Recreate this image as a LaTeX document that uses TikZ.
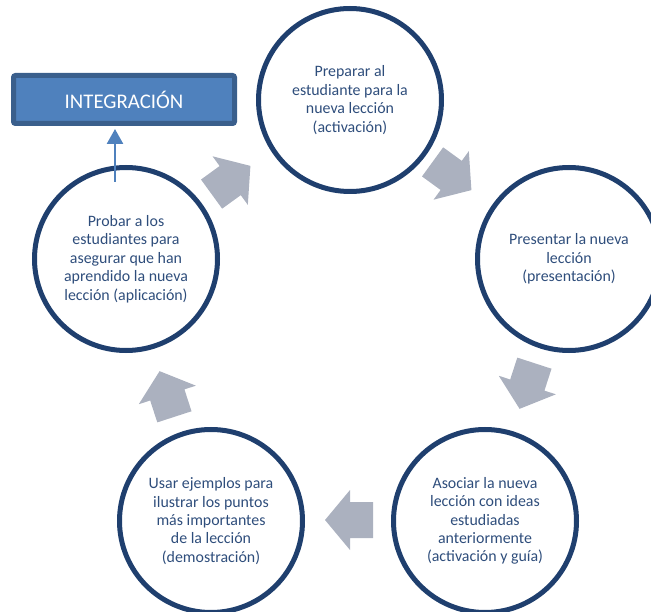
\documentclass[tikz,border=0pt]{standalone}
\usepackage{fontspec}
\setmainfont{Carlito}
\usetikzlibrary{arrows.meta}
\definecolor{ringblue}{HTML}{1F3F6E}
\definecolor{txtblue}{HTML}{2E4D7B}
\definecolor{boxfill}{HTML}{4F81BD}
\definecolor{boxline}{HTML}{3A5F8C}
\definecolor{arrgray}{HTML}{ABB1BF}
\tikzset{
  ring/.style={circle, draw=ringblue, line width=5pt, minimum size=183pt, inner sep=0pt,
    text=txtblue, align=center, font=\fontsize{15.9}{18.4}\selectfont},
  intbox/.style={draw=boxline, fill=boxfill, line width=5pt, rounded corners=2pt,
    minimum width=221pt, minimum height=48pt, inner sep=0pt, text=white,
    font=\fontsize{20.8}{23}\selectfont},
  intarrow/.style={draw=boxfill, line width=2.6pt, -{Triangle[length=15pt,width=16pt]}},
  blockarr/.style={fill=arrgray}
}
\newcommand{\blockarrow}[3]{%
  \fill[blockarr, shift={(#1,#2)}, rotate=#3]
    (-24,-18) -- (-1,-18) -- (-1,-30) -- (24,0) -- (-1,30) -- (-1,18) -- (-24,18) -- cycle;}
\begin{document}
\begin{tikzpicture}[x=1pt,y=-1pt]
\useasboundingbox (0,0) rectangle (651,612);
\clip (0,0) rectangle (651,612);
\node[ring] (c1) at (350,100) {Preparar al\\estudiante para la\\nueva lección\\(activación)};
\node[ring] (c2) at (569,259) {Presentar la nueva\\lección\\(presentación)};
\node[ring] (c3) at (485,521) {Asociar la nueva\\lección con ideas\\estudiadas\\anteriormente\\(activación y guía)};
\node[ring] (c4) at (211,521) {Usar ejemplos para\\ilustrar los puntos\\más importantes\\de la lección\\(demostración)};
\node[ring] (c5) at (126,259) {Probar a los\\estudiantes para\\asegurar que han\\aprendido la nueva\\lección (aplicación)};
\blockarrow{231}{180}{36}
\blockarrow{452}{176}{-36}
\blockarrow{527}{386}{-108}
\blockarrow{349}{520}{180}
\blockarrow{167}{394}{108}
\node[intbox] (integ) at (124,99.5) {INTEGRACIÓN};
\coordinate (a0) at (115,182);
\draw[intarrow, shorten >=3pt] (a0) -- (a0 |- integ.south);
\end{tikzpicture}
\end{document}
